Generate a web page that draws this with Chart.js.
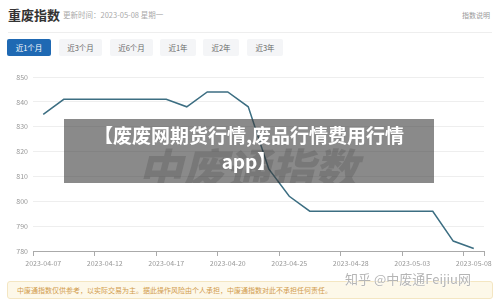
<!DOCTYPE html>
<html>
<head>
<meta charset="utf-8">
<script src="https://cdn.jsdelivr.net/npm/chart.js@4/dist/chart.umd.min.js"></script>
<style>
  html, body { margin:0; padding:0; background:#fff; }
  body { width:500px; height:302px; position:relative; overflow:hidden; font-family:"Noto Sans CJK SC","Noto Sans",sans-serif; }
  .abs { position:absolute; white-space:nowrap; }
  #title { left:8px; top:6px; font-size:13px; font-weight:700; color:#333; line-height:18px; }
  #upd { left:63px; top:10px; font-size:7.5px; color:#aaa; line-height:10px; }
  #note { left:462px; top:10px; font-size:7px; color:#999; line-height:10px; }
  #divider { left:8px; top:32px; width:484px; height:1px; background:#eee; }
  .tab { position:absolute; top:39px; height:17px; line-height:17px; font-size:7.5px; text-align:center; background:#f4f5f7; color:#666; border-radius:2px; }
  .tab.on { background:#1f69b3; color:#fff; }
  #wrap { position:absolute; left:0; top:65px; width:500px; height:210px; }
  #footer { left:7px; top:281px; width:484px; height:16px; background:#fdf8e9; border:1px solid #f4e6c2; border-radius:3px; font-size:7px; line-height:16px; color:#d19b4c; }
  #footer span { padding-left:9px; }
  #wm { left:345px; top:270px; font-size:13px; color:#b5b5b5; line-height:18px; text-shadow:0 0 1px #fff, 0 0 2px #fff; letter-spacing:0; }
  #overlay { left:64px; top:119px; width:370px; height:64px; background:rgba(60,60,60,0.6); overflow:hidden; }
  #bigwm { position:absolute; left:74px; top:18px; font-size:44px; font-weight:900; font-style:italic; color:rgba(0,0,0,0.13); line-height:60px; }
  #otext { position:absolute; left:0; top:3px; width:370px; text-align:center; color:#fff; font-weight:700; font-size:19px; line-height:26px; white-space:normal; }
</style>
</head>
<body>
<div class="abs" id="title">重废指数</div>
<div class="abs" id="upd">更新时间：2023-05-08 星期一</div>
<div class="abs" id="note">指数说明</div>
<div class="abs" id="divider"></div>
<div class="tab on" style="left:7px;width:44px;">近1个月</div>
<div class="tab" style="left:59px;width:43px;">近3个月</div>
<div class="tab" style="left:110px;width:43px;">近6个月</div>
<div class="tab" style="left:160px;width:36px;">近1年</div>
<div class="tab" style="left:203px;width:36px;">近2年</div>
<div class="tab" style="left:247px;width:36px;">近3年</div>
<div id="wrap"><canvas id="c"></canvas></div>
<div class="abs" id="overlay"><div id="bigwm">中废通指数</div><div id="otext">【废废网期货行情,废品行情费用行情<br>app】</div></div>
<div class="abs" id="footer"><span>中废通指数仅供参考，以实际交易为主。据此操作风险由个人承担，中废通指数对此不承担任何责任。</span></div>
<div class="abs" id="wm">知乎 @中废通Feijiu网</div>
<script>
const dates = ["2023-04-07","2023-04-10","2023-04-11","2023-04-12","2023-04-13","2023-04-14","2023-04-17","2023-04-18","2023-04-19","2023-04-20","2023-04-21","2023-04-24","2023-04-25","2023-04-26","2023-04-27","2023-04-28","2023-04-29","2023-05-02","2023-05-03","2023-05-04","2023-05-05","2023-05-08"];
const indexValues = [835,841,841,841,841,841,841,838,844,844,838,813,802,796,796,796,796,796,796,796,784,781];
const yTicks = [780,790,800,810,820,830,840,850];
const labelEvery = 3;

new Chart(document.getElementById('c'), {
  type: 'line',
  data: {
    labels: dates,
    datasets: [{
      data: indexValues,
      borderColor: '#3c6e82',
      borderWidth: 1.5,
      pointRadius: 0,
      tension: 0,
      fill: false
    }]
  },
  options: {
    responsive: true,
    maintainAspectRatio: false,
    animation: false,
    layout: { padding: { top: 12, right: 16, left: 0, bottom: 0 } },
    plugins: { legend: { display: false }, tooltip: { enabled: false } },
    scales: {
      x: {
        type: 'category',
        offset: true,
        border: { display: true, color: '#aaa', width: 1 },
        grid: {
          offset: true,
          drawOnChartArea: false,
          tickLength: 5,
          color: ctx => (ctx.index === undefined || ctx.index % labelEvery === 0) ? '#aaa' : 'rgba(0,0,0,0)'
        },
        ticks: {
          autoSkip: false,
          maxRotation: 0,
          padding: 3,
          color: '#999',
          font: { size: 7, family: '"Noto Sans CJK SC","Noto Sans",sans-serif' },
          callback: function(v, i) { return i % labelEvery === 0 ? dates[i] : ''; }
        },
        afterFit: s => { s.height = 24; }
      },
      y: {
        min: yTicks[0],
        max: yTicks[yTicks.length - 1],
        border: { display: false },
        grid: { color: '#eeeeee', drawTicks: false, lineWidth: 1 },
        afterBuildTicks: s => { s.ticks = yTicks.map(v => ({ value: v })); },
        ticks: {
          padding: 5,
          color: '#999',
          font: { size: 7, family: '"Noto Sans CJK SC","Noto Sans",sans-serif' }
        },
        afterFit: s => { s.width = 33; }
      }
    }
  }
});
</script>
</body>
</html>
